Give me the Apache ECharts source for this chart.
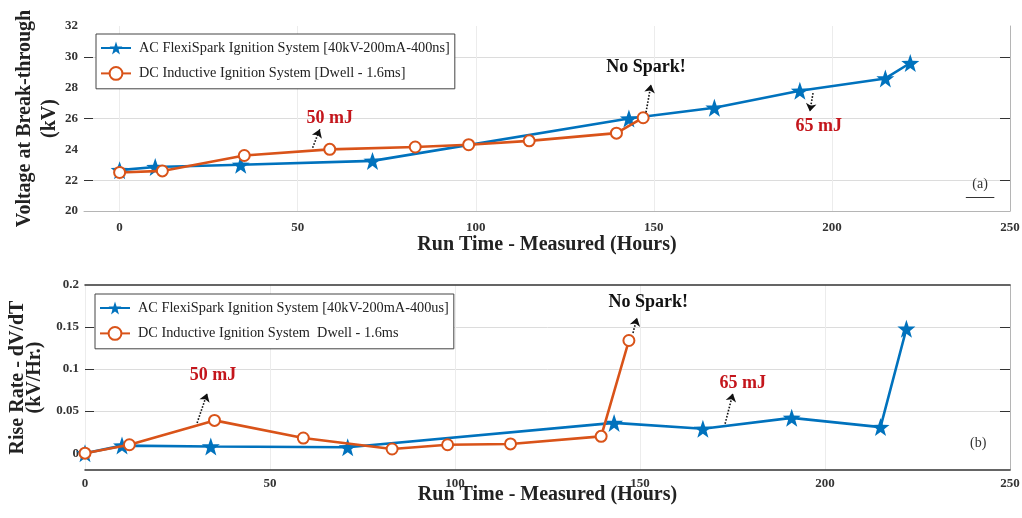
<!DOCTYPE html>
<html><head><meta charset="utf-8">
<script src="https://cdn.jsdelivr.net/npm/echarts@6/dist/echarts.min.js"></script>
<style>html,body{margin:0;padding:0;background:#fff}#c{width:1022px;height:518px}</style>
</head><body><div id="c"></div>
<script>
// ---- data ----
const acHours   = [0, 10, 34, 71, 143, 167, 191, 215, 222];
const acVoltage = [22.65, 22.85, 23.0, 23.25, 26.0, 26.7, 27.8, 28.6, 29.6];
const acRise    = [0, 0.009, 0.008, 0.007, 0.036, 0.029, 0.042, 0.031, 0.148];
const dcHours   = [0, 12, 35, 59, 83, 98, 115, 139.5, 147];
const dcVoltage = [22.5, 22.6, 23.6, 24.0, 24.15, 24.3, 24.55, 25.05, 26.05];
const dcRise    = [0, 0.01, 0.039, 0.018, 0.005, 0.01, 0.011, 0.02, 0.134];

const xTickLabels    = [0, 50, 100, 150, 200, 250];
const voltageLabels  = [20, 22, 24, 26, 28, 30, 32];
const voltageGridAt  = [22, 26, 30];
const riseLabels     = [0, 0.05, 0.1, 0.15, 0.2];
const riseGridAt     = [0.05, 0.1, 0.15];

const acNameTop = 'AC FlexiSpark Ignition System [40kV-200mA-400ns]';
const dcNameTop = 'DC Inductive Ignition System [Dwell - 1.6ms]';
const acNameBot = 'AC FlexiSpark Ignition System [40kV-200mA-400us]';
const dcNameBot = 'DC Inductive Ignition System  Dwell - 1.6ms ';

// annotations (data-space anchors)
const voltageNotes = [
  {text: '50 mJ', at: [59, 26.0], from: [54.2, 24.1], to: [56.2, 25.3], red: true},
  {text: 'No Spark!', at: [147.8, 29.35], from: [147.8, 26.4], to: [149.2, 28.2], red: false},
  {text: '65 mJ', at: [196.3, 25.5], from: [194.7, 27.65], to: [193.8, 26.45], red: true}
];
const riseNotes = [
  {text: '50 mJ', at: [34.6, 0.092], from: [30.3, 0.036], to: [33, 0.071], red: true},
  {text: 'No Spark!', at: [152.2, 0.179], from: [148.1, 0.143], to: [149.2, 0.161], red: false},
  {text: '65 mJ', at: [177.8, 0.083], from: [173, 0.035], to: [175.1, 0.071], red: true}
];
const panelA = {text: '(a)', at: [241.6, 21.7], line: [[237.6, 20.9], [245.6, 20.9]]};
const panelB = {text: '(b)', at: [241.4, 0.012]};

// ---- styling ----
const SERIF = "'Liberation Serif','Times New Roman',serif";
const BLUE = '#0072BD', ORANGE = '#D95319', RED = '#C4161C';
const STAR = 'path://M0,-10 L2.35,-3.24 L9.51,-3.09 L3.8,1.24 L5.88,8.09 L0,4 L-5.88,8.09 L-3.8,1.24 L-9.51,-3.09 L-2.35,-3.24 Z';
const zip = (a, b) => a.map((v, i) => [v, b[i]]);

function notesMark(notes, extra) {
  const pts = notes.map(n => ({
    coord: n.at,
    label: {formatter: n.text, color: n.red ? RED : '#111', fontSize: 18, fontWeight: 'bold', fontFamily: SERIF}
  }));
  const lines = notes.map(n => [{coord: n.from}, {coord: n.to}]);
  if (extra) {
    pts.push({coord: extra.at, label: {formatter: extra.text, color: '#333', fontSize: 14, fontWeight: 'normal', fontFamily: SERIF}});
    if (extra.line) lines.push([{coord: extra.line[0], symbol: 'none', lineStyle: {type: 'solid', color: '#333', width: 1}},
                                {coord: extra.line[1], symbol: 'none'}]);
  }
  return {
    markPoint: {
      symbol: 'rect', symbolSize: 1, silent: true, animation: false,
      itemStyle: {color: 'rgba(0,0,0,0)'},
      label: {show: true, position: 'inside'},
      data: pts
    },
    markLine: {
      silent: true, animation: false,
      symbol: ['none', 'arrow'], symbolSize: 8,
      lineStyle: {type: 'dotted', color: '#111', width: 1.6},
      label: {show: false},
      emphasis: {disabled: true},
      data: lines
    }
  };
}

const tickLabel = {fontFamily: SERIF, fontWeight: 'bold', fontSize: 13, color: '#333'};
const axisNameStyle = (lh) => ({fontFamily: SERIF, fontWeight: 'bold', fontSize: 20, color: '#222', lineHeight: lh});

function yPair(gridIndex, min, max, labels, gridAt, name, gap, lh) {
  return [{
    type: 'value', gridIndex, min, max, position: 'left',
    name, nameLocation: 'middle', nameGap: gap, nameRotate: 90, nameMoveOverlap: false,
    nameTextStyle: axisNameStyle(lh),
    axisLine: {show: false, onZero: false},
    axisTick: {show: true, inside: true, length: 9, customValues: gridAt, lineStyle: {color: '#333'}},
    axisLabel: Object.assign({customValues: labels, margin: 6}, tickLabel),
    splitLine: {show: true, lineStyle: {color: '#dcdcdc', width: 1}}
  }, {
    type: 'value', gridIndex, min, max, position: 'right',
    axisLine: {show: true, onZero: false, lineStyle: {color: '#b5b5b5'}},
    axisTick: {show: true, inside: true, length: 10, customValues: gridAt, lineStyle: {color: '#333'}},
    axisLabel: {show: false},
    splitLine: {show: false}
  }];
}

function legendFor(pos, names) {
  return {
    orient: 'vertical', left: pos.left, top: pos.top,
    data: names, itemWidth: 30, itemHeight: 16, itemGap: 11,
    padding: [7, 5, 8, 4],
    borderColor: '#444', borderWidth: 1, backgroundColor: '#fff',
    textStyle: {fontFamily: SERIF, fontSize: 14.3, color: '#222', padding: [0, 0, 0, 3]},
    selectedMode: false
  };
}

const chart = echarts.init(document.getElementById('c'), null, {renderer: 'canvas'});
const topY = yPair(0, 20, 32, voltageLabels, voltageGridAt, 'Voltage at Break-through\n(kV)', 22, 25);
const botY = yPair(1, -0.02, 0.2, riseLabels, riseGridAt, 'Rise Rate - dV/dT\n(kV/Hr.)', 42, 17);

chart.setOption({
  animation: false,
  backgroundColor: '#fff',
  grid: [
    {left: 84, right: 12, top: 26, height: 185, outerBoundsMode: 'none'},
    {left: 85, right: 12, top: 285, height: 185, outerBoundsMode: 'none'}
  ],
  legend: [
    legendFor({left: 96, top: 34}, [acNameTop, dcNameTop]),
    legendFor({left: 95, top: 294}, [acNameBot, dcNameBot])
  ],
  xAxis: [{
    type: 'value', gridIndex: 0, min: -10, max: 250,
    name: 'Run Time - Measured (Hours)', nameLocation: 'middle', nameGap: 23, nameMoveOverlap: false,
    nameTextStyle: axisNameStyle(22),
    axisLine: {show: true, onZero: false, lineStyle: {color: '#b5b5b5'}},
    axisTick: {show: false, customValues: xTickLabels},
    axisLabel: Object.assign({customValues: xTickLabels, margin: 10}, tickLabel),
    splitLine: {show: true, lineStyle: {color: '#ececec'}}
  }, {
    type: 'value', gridIndex: 1, min: 0, max: 250,
    name: 'Run Time - Measured (Hours)', nameLocation: 'middle', nameGap: 14, nameMoveOverlap: false,
    nameTextStyle: axisNameStyle(22),
    axisLine: {show: true, onZero: false, lineStyle: {color: '#333', width: 1.5}},
    axisTick: {show: false, customValues: xTickLabels},
    axisLabel: Object.assign({customValues: xTickLabels, margin: 7}, tickLabel),
    splitLine: {show: true, lineStyle: {color: '#ececec'}}
  }, {
    type: 'value', gridIndex: 1, min: 0, max: 250, position: 'top',
    axisLine: {show: true, onZero: false, lineStyle: {color: '#333', width: 1.5}},
    axisTick: {show: false}, axisLabel: {show: false}, splitLine: {show: false}
  }],
  yAxis: [topY[0], topY[1], botY[0], botY[1]],
  series: [
    Object.assign({
      name: acNameTop, type: 'line', xAxisIndex: 0, yAxisIndex: 0,
      data: zip(acHours, acVoltage),
      symbol: STAR, symbolSize: 18, showAllSymbol: true,
      lineStyle: {color: BLUE, width: 2.6}, itemStyle: {color: BLUE}, z: 3
    }, notesMark(voltageNotes, panelA)),
    {
      name: dcNameTop, type: 'line', xAxisIndex: 0, yAxisIndex: 0,
      data: zip(dcHours, dcVoltage),
      symbol: 'emptyCircle', symbolSize: 11, showAllSymbol: true,
      lineStyle: {color: ORANGE, width: 2.6}, itemStyle: {color: ORANGE, borderWidth: 2.2}, z: 4
    },
    Object.assign({
      name: acNameBot, type: 'line', xAxisIndex: 1, yAxisIndex: 2,
      data: zip(acHours, acRise),
      symbol: STAR, symbolSize: 18, showAllSymbol: true,
      lineStyle: {color: BLUE, width: 2.6}, itemStyle: {color: BLUE}, z: 3
    }, notesMark(riseNotes, panelB)),
    {
      name: dcNameBot, type: 'line', xAxisIndex: 1, yAxisIndex: 2,
      data: zip(dcHours, dcRise),
      symbol: 'emptyCircle', symbolSize: 11, showAllSymbol: true,
      lineStyle: {color: ORANGE, width: 2.6}, itemStyle: {color: ORANGE, borderWidth: 2.2}, z: 4
    }
  ]
});
</script>
</body></html>
